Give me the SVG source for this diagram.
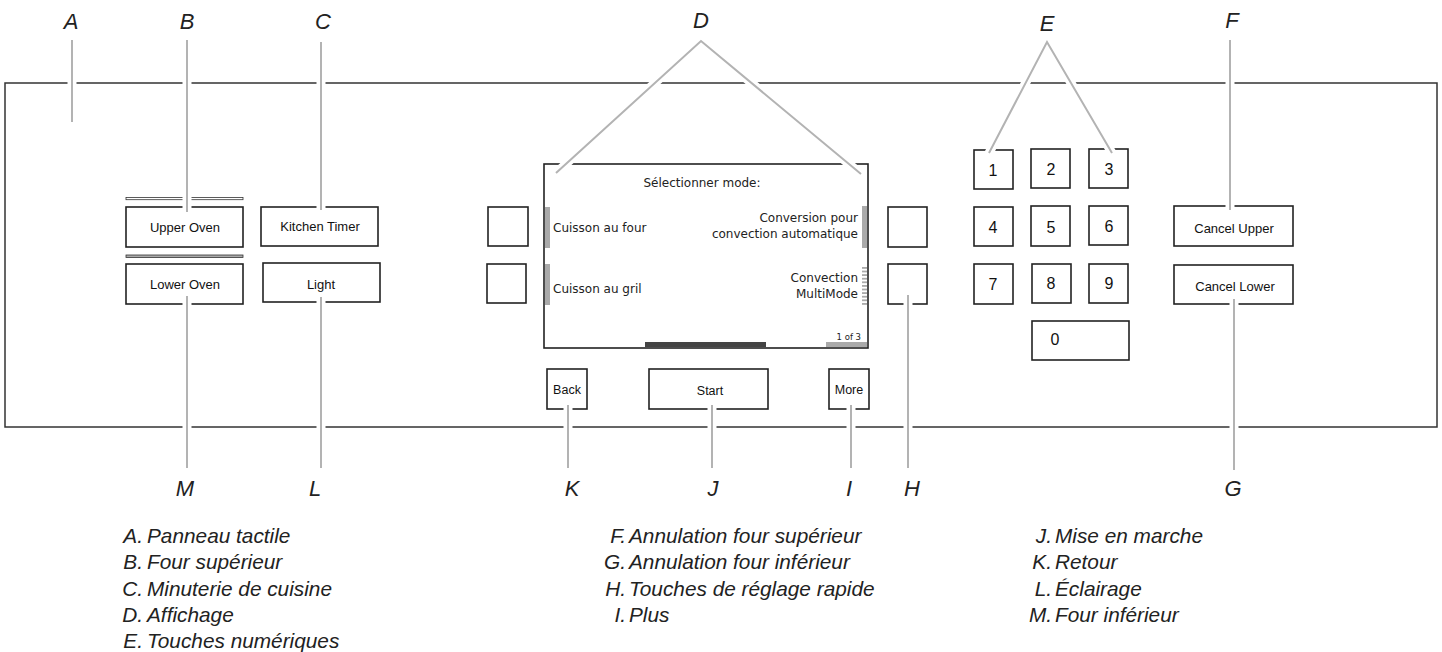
<svg xmlns="http://www.w3.org/2000/svg" width="1442" height="652" viewBox="0 0 1442 652">
<defs>
<style>
.panel{fill:none;stroke:#333;stroke-width:1.5}
.btn{fill:#fff;stroke:#222;stroke-width:1.6}
.bt{font-family:"Liberation Sans",Arial,sans-serif;font-size:13px;fill:#111;text-anchor:middle}
.dg{font-family:"Liberation Sans",Arial,sans-serif;font-size:16px;fill:#111;text-anchor:middle}
.ds{font-family:"DejaVu Sans",Verdana,sans-serif;font-size:12px;fill:#222}
.lbl{font-family:"Liberation Sans",Arial,sans-serif;font-style:italic;font-size:22px;fill:#222;text-anchor:middle}
.lg{font-family:"Liberation Sans",Arial,sans-serif;font-style:italic;font-size:20.8px;fill:#222}
.halo{stroke:#fff;stroke-width:9;fill:none}
.ld{stroke:#b3b3b3;stroke-width:2;fill:none}
.bar{fill:#aaa}
</style>
<pattern id="stripes" x="0" y="267" width="6" height="3.6" patternUnits="userSpaceOnUse">
<rect x="0" y="0" width="6" height="1.8" fill="#aaa"/>
</pattern>
</defs>
<rect width="1442" height="652" fill="#fff"/>

<g id="panel">
<rect class="panel" x="5" y="83" width="1432" height="344"/>
</g>

<g id="upper-oven">
<rect x="126" y="197.5" width="117" height="2.2" fill="#fff" stroke="#333" stroke-width="0.8"/>
<rect class="btn" x="126" y="207" width="117" height="40"/>
<text class="bt" x="185" y="232">Upper Oven</text>
</g>
<g id="lower-oven">
<rect x="126" y="255" width="117" height="2.4" fill="#aaa" stroke="#333" stroke-width="0.8"/>
<rect class="btn" x="126" y="264" width="117" height="40"/>
<text class="bt" x="185" y="289">Lower Oven</text>
</g>
<g id="kitchen-timer">
<rect class="btn" x="261" y="207" width="117" height="39"/>
<text class="bt" x="320" y="231">Kitchen Timer</text>
</g>
<g id="light">
<rect class="btn" x="263" y="263" width="117" height="39"/>
<text class="bt" x="321" y="289">Light</text>
</g>

<g id="quick-keys">
<rect class="btn" x="488" y="207" width="40" height="39"/>
<rect class="btn" x="487" y="264" width="39" height="39"/>
<rect class="btn" x="888" y="207" width="39" height="40"/>
<rect class="btn" x="888" y="264" width="39" height="40"/>
</g>

<g id="display">
<rect class="btn" x="544" y="164" width="324" height="184"/>
<text class="ds" x="702" y="187" text-anchor="middle">Sélectionner mode:</text>
<rect class="bar" x="545" y="207" width="5" height="41"/>
<rect class="bar" x="545" y="264" width="5" height="41"/>
<rect class="bar" x="862" y="206" width="5" height="42"/>
<rect x="862" y="267" width="5" height="39" fill="url(#stripes)"/>
<text class="ds" x="553" y="232">Cuisson au four</text>
<text class="ds" x="553" y="293">Cuisson au gril</text>
<text class="ds" x="858" y="222" text-anchor="end">Conversion pour</text>
<text class="ds" x="858" y="238" text-anchor="end">convection automatique</text>
<text class="ds" x="858" y="282" text-anchor="end">Convection</text>
<text class="ds" x="858" y="298" text-anchor="end">MultiMode</text>
<text class="ds" x="861" y="340" text-anchor="end" style="font-size:8.5px">1 of 3</text>
<rect x="645" y="342" width="121" height="5" fill="#444"/>
<rect class="bar" x="826" y="342" width="41" height="5"/>
</g>

<g id="back">
<rect class="btn" x="547" y="369" width="40" height="40"/>
<text class="bt" x="567" y="394" style="font-size:12.5px">Back</text>
</g>
<g id="start">
<rect class="btn" x="649" y="369" width="119" height="40"/>
<text class="bt" x="710" y="395" style="font-size:12.5px">Start</text>
</g>
<g id="more">
<rect class="btn" x="829" y="369" width="40" height="40"/>
<text class="bt" x="849" y="394" style="font-size:12.5px">More</text>
</g>

<g id="keypad">
<rect class="btn" x="974" y="150" width="39" height="39"/><text class="dg" x="993" y="176">1</text>
<rect class="btn" x="1031" y="149" width="39" height="39"/><text class="dg" x="1051" y="175">2</text>
<rect class="btn" x="1089" y="149" width="39" height="39"/><text class="dg" x="1109" y="175">3</text>
<rect class="btn" x="974" y="207" width="39" height="39"/><text class="dg" x="993" y="233">4</text>
<rect class="btn" x="1031" y="206" width="39" height="40"/><text class="dg" x="1051" y="233">5</text>
<rect class="btn" x="1089" y="206" width="39" height="39"/><text class="dg" x="1109" y="232">6</text>
<rect class="btn" x="974" y="264" width="39" height="40"/><text class="dg" x="993" y="290">7</text>
<rect class="btn" x="1032" y="264" width="39" height="39"/><text class="dg" x="1051" y="289">8</text>
<rect class="btn" x="1089" y="264" width="39" height="39"/><text class="dg" x="1109" y="289">9</text>
<rect class="btn" x="1032" y="321" width="97" height="39"/><text class="dg" x="1055" y="345">0</text>
</g>

<g id="cancel-upper">
<rect class="btn" x="1174" y="206" width="119" height="40"/>
<text class="bt" x="1234" y="233">Cancel Upper</text>
</g>
<g id="cancel-lower">
<rect class="btn" x="1174" y="265" width="119" height="39"/>
<text class="bt" x="1235" y="291">Cancel Lower</text>
</g>

<g id="connectors">
<g class="halo">
<line x1="72" y1="40" x2="72" y2="122"/>
<line x1="187" y1="40" x2="187" y2="212"/>
<line x1="321" y1="42" x2="321" y2="210"/>
<polyline points="556,173 701,41 861,174"/>
<polyline points="989,153 1047,42 1112,153"/>
<line x1="1230" y1="40" x2="1230" y2="210"/>
<line x1="1234" y1="299" x2="1234" y2="470"/>
<line x1="187" y1="296" x2="187" y2="468"/>
<line x1="321" y1="297" x2="321" y2="468"/>
<line x1="568" y1="405" x2="568" y2="468"/>
<line x1="712" y1="405" x2="712" y2="468"/>
<line x1="851" y1="405" x2="851" y2="468"/>
<line x1="908" y1="295" x2="908" y2="468"/>
</g>
<g class="ld">
<line x1="72" y1="40" x2="72" y2="122"/>
<line x1="187" y1="40" x2="187" y2="212"/>
<line x1="321" y1="42" x2="321" y2="210"/>
<polyline points="556,173 701,41 861,174"/>
<polyline points="989,153 1047,42 1112,153"/>
<line x1="1230" y1="40" x2="1230" y2="210"/>
<line x1="1234" y1="299" x2="1234" y2="470"/>
<line x1="187" y1="296" x2="187" y2="468"/>
<line x1="321" y1="297" x2="321" y2="468"/>
<line x1="568" y1="405" x2="568" y2="468"/>
<line x1="712" y1="405" x2="712" y2="468"/>
<line x1="851" y1="405" x2="851" y2="468"/>
<line x1="908" y1="295" x2="908" y2="468"/>
</g>
</g>

<g id="callout-letters">
<text class="lbl" x="71" y="29">A</text>
<text class="lbl" x="187" y="29">B</text>
<text class="lbl" x="323" y="29">C</text>
<text class="lbl" x="701" y="28">D</text>
<text class="lbl" x="1047" y="31">E</text>
<text class="lbl" x="1232" y="28">F</text>
<text class="lbl" x="185" y="496">M</text>
<text class="lbl" x="315" y="496">L</text>
<text class="lbl" x="572" y="496">K</text>
<text class="lbl" x="713" y="496">J</text>
<text class="lbl" x="849" y="496">I</text>
<text class="lbl" x="912" y="496">H</text>
<text class="lbl" x="1233" y="496">G</text>
</g>

<g id="legend">
<text class="lg" x="143" y="543" text-anchor="end">A.</text>
<text class="lg" x="143" y="569" text-anchor="end">B.</text>
<text class="lg" x="143" y="596" text-anchor="end">C.</text>
<text class="lg" x="143" y="622" text-anchor="end">D.</text>
<text class="lg" x="143" y="648" text-anchor="end">E.</text>
<text class="lg" x="626" y="543" text-anchor="end">F.</text>
<text class="lg" x="626" y="569" text-anchor="end">G.</text>
<text class="lg" x="626" y="596" text-anchor="end">H.</text>
<text class="lg" x="626" y="622" text-anchor="end">I.</text>
<text class="lg" x="1052" y="543" text-anchor="end">J.</text>
<text class="lg" x="1052" y="569" text-anchor="end">K.</text>
<text class="lg" x="1052" y="596" text-anchor="end">L.</text>
<text class="lg" x="1052" y="622" text-anchor="end">M.</text>
<text class="lg" x="147" y="543">Panneau tactile</text>
<text class="lg" x="147" y="569">Four supérieur</text>
<text class="lg" x="147" y="596">Minuterie de cuisine</text>
<text class="lg" x="147" y="622">Affichage</text>
<text class="lg" x="147" y="648">Touches numériques</text>
<text class="lg" x="629" y="543">Annulation four supérieur</text>
<text class="lg" x="629" y="569">Annulation four inférieur</text>
<text class="lg" x="629" y="596">Touches de réglage rapide</text>
<text class="lg" x="629" y="622">Plus</text>
<text class="lg" x="1055" y="543">Mise en marche</text>
<text class="lg" x="1055" y="569">Retour</text>
<text class="lg" x="1055" y="596">Éclairage</text>
<text class="lg" x="1055" y="622">Four inférieur</text>
</g>
</svg>
